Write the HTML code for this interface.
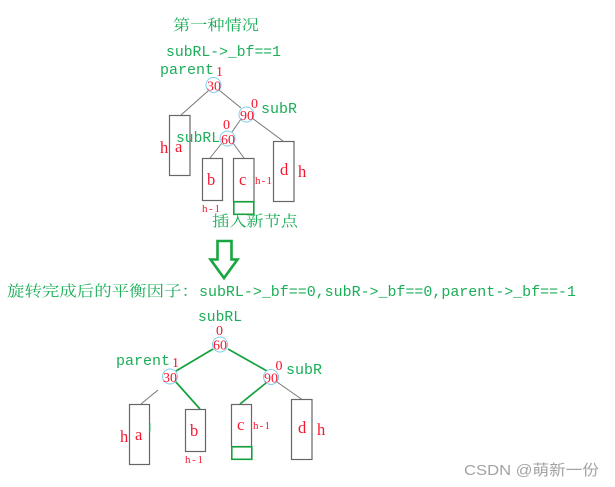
<!DOCTYPE html>
<html>
<head>
<meta charset="utf-8">
<style>
html,body{margin:0;padding:0;background:#fff;width:615px;height:487px;overflow:hidden}
svg{display:block}
.g{fill:#1bae58;font-family:"Liberation Mono",monospace;font-size:15px}
.c{fill:#1bae58;font-family:"Liberation Serif","Noto Serif CJK SC",serif;font-size:15px}
.r{fill:#f5162f;font-family:"Liberation Serif",serif;font-size:16.5px}
.n2{fill:#f5162f;font-family:"Liberation Serif",serif;font-size:14px}
.s{fill:#f5162f;font-family:"Liberation Serif",serif;font-size:11px}
.w{fill:none;stroke:#666;stroke-width:1.2}
.l{stroke:#777;stroke-width:1;fill:none}
.gl{stroke:#14a23c;stroke-width:1.7;fill:none}
.n{fill:#fff;stroke:#7fd0ee;stroke-width:1}
</style>
</head>
<body>
<svg width="615" height="487" viewBox="0 0 615 487" xmlns="http://www.w3.org/2000/svg">
<!-- Top tree -->
<text class="c" x="173" y="30" textLength="86" lengthAdjust="spacingAndGlyphs">第一种情况</text>
<text class="g" x="166" y="56" textLength="115" lengthAdjust="spacingAndGlyphs">subRL-&gt;_bf==1</text>
<text class="g" x="160" y="74" textLength="54" lengthAdjust="spacingAndGlyphs">parent</text>
<text class="n2" x="216" y="76">1</text>

<g class="l">
<line x1="208" y1="91" x2="181" y2="115"/>
<line x1="219" y1="90" x2="241" y2="108"/>
<line x1="241" y1="119" x2="232" y2="132"/>
<line x1="252" y1="118" x2="283" y2="141"/>
<line x1="222" y1="143" x2="210" y2="158"/>
<line x1="233" y1="143" x2="244" y2="158"/>
</g>
<rect class="w" x="169.5" y="115.5" width="20.5" height="60"/>
<rect class="w" x="202.5" y="158.5" width="20" height="42"/>
<rect class="w" x="233.5" y="158.5" width="20.5" height="43"/>
<rect x="233.8" y="201.8" width="20" height="12.5" fill="none" stroke="#14a23c" stroke-width="1.6"/>
<rect class="w" x="273.5" y="141.5" width="20.5" height="60"/>

<circle class="n" cx="213.5" cy="85" r="7.5"/>
<circle class="n" cx="246.5" cy="114.5" r="7.5"/>
<circle class="n" cx="227.5" cy="138.5" r="7.5"/>
<text class="n2" x="207" y="90.5">30</text>
<text class="n2" x="240" y="120">90</text>
<text class="n2" x="221" y="144">60</text>
<text class="n2" x="251" y="108">0</text>
<text class="n2" x="223" y="129">0</text>
<text class="g" x="261" y="113" textLength="36" lengthAdjust="spacingAndGlyphs">subR</text>
<text class="g" x="176" y="142" textLength="44" lengthAdjust="spacingAndGlyphs">subRL</text>
<text class="r" x="160" y="153">h</text>
<text class="r" x="175" y="152">a</text>
<text class="r" x="207" y="185">b</text>
<text class="r" x="239" y="185">c</text>
<text class="r" x="280" y="175">d</text>
<text class="r" x="298" y="177">h</text>
<text class="s" x="202" y="212" textLength="18">h-1</text>
<text class="s" x="255" y="184" textLength="17">h-1</text>
<text class="c" x="212" y="226" textLength="86" lengthAdjust="spacingAndGlyphs">插入新节点</text>

<!-- Arrow -->
<path d="M217.5 241 H231.5 V259.5 H237.5 L224 278 L210.5 259.5 H217.5 Z" fill="#fff" stroke="#17a63f" stroke-width="2.6"/>

<!-- Caption -->
<text class="c" x="7" y="296" textLength="192" lengthAdjust="spacingAndGlyphs">旋转完成后的平衡因子：</text>
<text class="g" x="199" y="296" textLength="377" lengthAdjust="spacingAndGlyphs">subRL-&gt;_bf==0,subR-&gt;_bf==0,parent-&gt;_bf==-1</text>

<!-- Bottom tree -->
<text class="g" x="198" y="321" textLength="44" lengthAdjust="spacingAndGlyphs">subRL</text>
<text class="n2" x="216" y="335">0</text>
<text class="g" x="116" y="365" textLength="54" lengthAdjust="spacingAndGlyphs">parent</text>
<text class="n2" x="172" y="367">1</text>
<text class="n2" x="275.5" y="370">0</text>
<text class="g" x="286" y="374" textLength="36" lengthAdjust="spacingAndGlyphs">subR</text>

<g class="gl">
<line x1="213" y1="349" x2="176" y2="371"/>
<line x1="228" y1="349" x2="267" y2="371"/>
<line x1="175" y1="381" x2="200" y2="409"/>
<line x1="266" y1="383" x2="240" y2="404"/>
</g>
<g class="l">
<line x1="158" y1="390" x2="141" y2="404"/>
<line x1="277" y1="382" x2="302" y2="399.5"/>
</g>
<rect class="w" x="129.5" y="404.5" width="20" height="60"/>
<line x1="150" y1="423" x2="150" y2="431" stroke="#3fbb60" stroke-width="1"/>
<rect class="w" x="185.5" y="409.5" width="20" height="42"/>
<rect class="w" x="231.5" y="404.5" width="20" height="42"/>
<rect x="231.8" y="446.8" width="20" height="12.5" fill="none" stroke="#14a23c" stroke-width="1.6"/>
<rect class="w" x="291.5" y="399.5" width="20.5" height="60"/>

<circle class="n" cx="220" cy="344.5" r="7.5"/>
<circle class="n" cx="170" cy="376.5" r="7.5"/>
<circle class="n" cx="271" cy="377" r="7.5"/>
<text class="n2" x="213" y="349.5">60</text>
<text class="n2" x="163" y="382">30</text>
<text class="n2" x="264" y="382.5">90</text>

<text class="r" x="120" y="442">h</text>
<text class="r" x="135" y="440">a</text>
<text class="r" x="190" y="436">b</text>
<text class="r" x="237" y="430">c</text>
<text class="r" x="298" y="433">d</text>
<text class="r" x="317" y="435">h</text>
<text class="s" x="185" y="463" textLength="18">h-1</text>
<text class="s" x="253" y="429" textLength="17">h-1</text>

<!-- Watermark -->
<text x="464" y="475" fill="#a3a3a3" font-family="'Liberation Sans','Noto Sans CJK SC',sans-serif" font-size="15" textLength="135" lengthAdjust="spacingAndGlyphs">CSDN @萌新一份</text>
</svg>
</body>
</html>
